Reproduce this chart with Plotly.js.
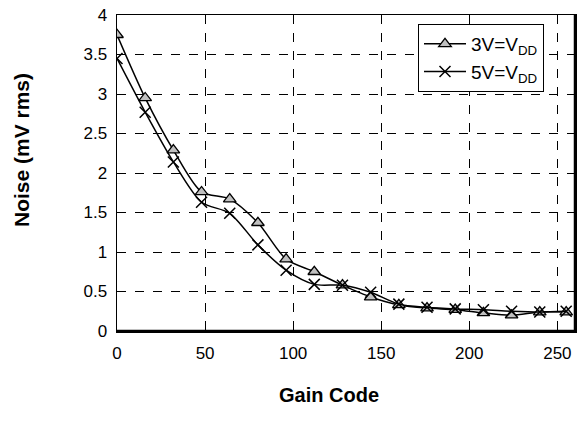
<!DOCTYPE html>
<html><head><meta charset="utf-8">
<script src="https://cdn.plot.ly/plotly-3.0.1.min.js"></script>
<style>html,body{margin:0;padding:0;background:#fff}</style>
</head><body>
<div id="chart" style="width:586px;height:422px"></div>
<script>
const gainCode = [0,16,32,48,64,80,96,112,128,144,160,176,192,208,224,240,255];
const noise3V = [3.75,2.95,2.29,1.76,1.67,1.37,0.91,0.75,0.58,0.43,0.33,0.29,0.27,0.23,0.20,0.24,0.24];
const noise5V = [3.45,2.77,2.14,1.63,1.49,1.09,0.77,0.59,0.58,0.49,0.34,0.30,0.28,0.27,0.25,0.24,0.25];
const xTicks = [0,50,100,150,200,250];
const yTicks = [0,0.5,1,1.5,2,2.5,3,3.5,4];
const yTickText = ['0','0.5','1','1.5','2','2.5','3','3.5','4'];

const font = 'Liberation Sans, Arial, sans-serif';
const traces = [
  {x: gainCode, y: noise3V, name: '3V=V<sub>DD</sub>', mode: 'lines+markers',
   line: {color: '#000', width: 1.5, shape: 'spline', smoothing: 0.8},
   marker: {symbol: 'triangle-up', size: 11, color: '#c0c0c0', line: {color: '#000', width: 1.3}}},
  {x: gainCode, y: noise5V, name: '5V=V<sub>DD</sub>', mode: 'lines+markers',
   line: {color: '#000', width: 1.5, shape: 'spline', smoothing: 0.8},
   marker: {symbol: 'x-thin', size: 11, color: '#000', line: {color: '#000', width: 1.5}}}
];
const layout = {
  width: 586, height: 422,
  margin: {l: 117, r: 11, t: 15, b: 91},
  paper_bgcolor: '#fff', plot_bgcolor: '#fff',
  font: {family: font, size: 17, color: '#000'},
  showlegend: true,
  legend: {x: (418-117)/458, y: (331-24)/316, xanchor: 'left', yanchor: 'top',
           bgcolor: '#fff', bordercolor: '#000', borderwidth: 1, itemwidth: 42,
           font: {family: font, size: 19, color: '#000'}, tracegroupgap: 0},
  xaxis: {range: [0, 260], tickvals: xTicks, ticktext: xTicks.map(String),
          showgrid: true, gridcolor: '#000', griddash: 'dash', gridwidth: 1,
          showline: true, linecolor: '#000', linewidth: 1.5, mirror: true,
          zeroline: false, ticks: '', ticklabelstandoff: 6, tickfont: {size: 17}, title: {text: ''}},
  yaxis: {range: [0, 4], tickvals: yTicks, ticktext: yTickText,
          showgrid: true, gridcolor: '#000', griddash: 'dash', gridwidth: 1,
          showline: true, linecolor: '#000', linewidth: 1.5, mirror: true,
          zeroline: false, ticks: '', ticklabelstandoff: 5, tickfont: {size: 17}, title: {text: ''}},
  shapes: [
    {type: 'line', xref: 'paper', yref: 'paper', x0: 1, x1: 1, y0: 0, y1: 1,
     line: {color: '#000', width: 2.5}},
    {type: 'line', xref: 'paper', yref: 'paper', x0: 0, x1: 1, y0: 0, y1: 0,
     line: {color: '#000', width: 2.5}}
  ],
  annotations: [
    {text: '<b>Gain Code</b>', xref: 'paper', yref: 'paper', x: (329-117)/458, y: -(395-331)/316,
     showarrow: false, xanchor: 'center', yanchor: 'middle', font: {family: font, size: 20}},
    {text: '<b>Noise (mV rms)</b>', xref: 'paper', yref: 'paper', x: -(117-22)/458, y: (331-150)/316,
     showarrow: false, xanchor: 'center', yanchor: 'middle', textangle: -90, font: {family: font, size: 21}}
  ]
};
Plotly.newPlot('chart', traces, layout, {displayModeBar: false, staticPlot: true});
</script>
</body></html>
